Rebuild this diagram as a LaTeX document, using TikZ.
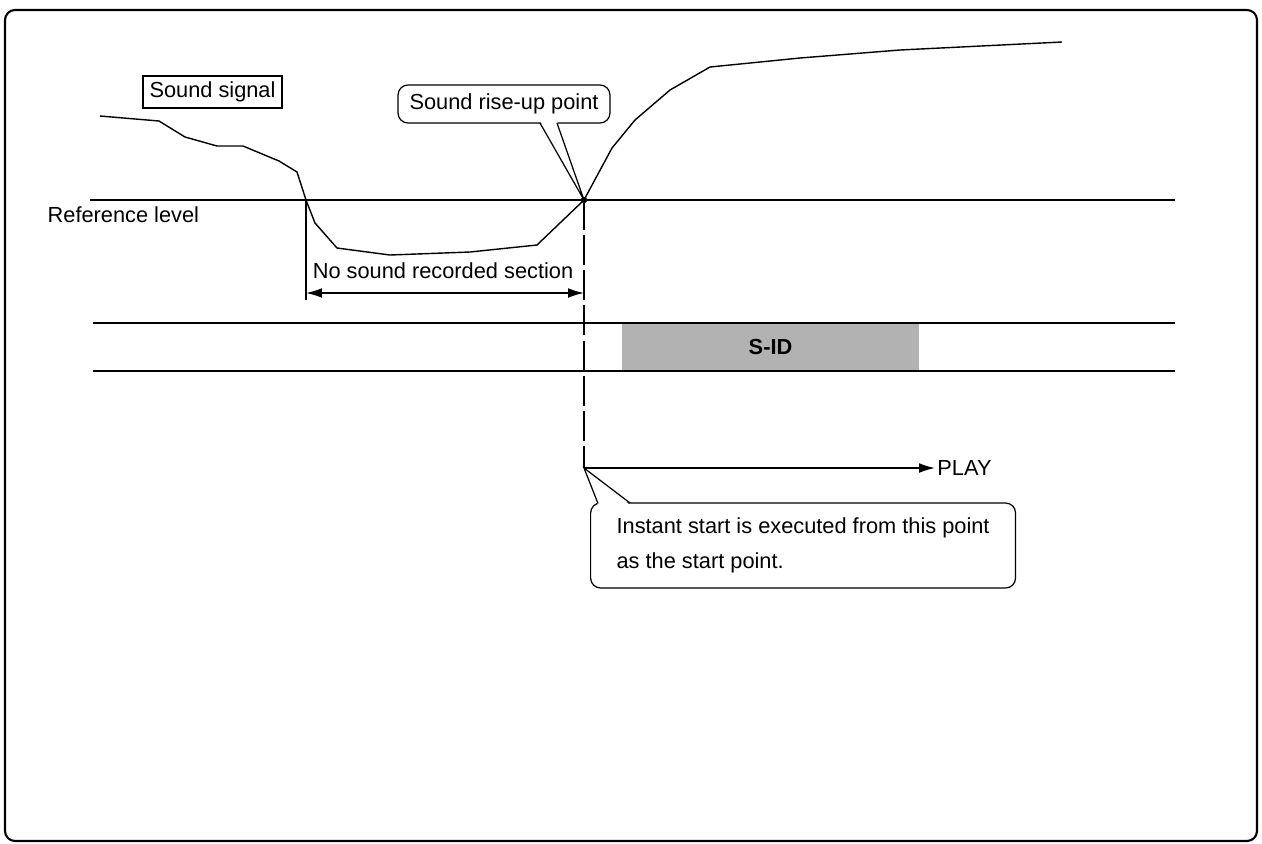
\documentclass[tikz,border=0pt]{standalone}
\usepackage{fontspec}
\setmainfont{Liberation Sans}
\usetikzlibrary{arrows.meta,positioning,calc}
\definecolor{sidgray}{HTML}{B2B2B2}

\begin{document}
\begin{tikzpicture}[x=0.02cm, y=-0.02cm, line width=0.8pt,
      font=\fontsize{12.4}{15}\selectfont,
      tag/.style={draw, line width=0.7pt, inner sep=0pt, minimum width=2.78cm, minimum height=0.64cm},
      callout/.style={draw, fill=white, line width=0.7pt, rounded corners=0.2cm, inner sep=0pt},
      track/.style={line width=0.9pt},
      tip/.style={-{Latex[length=9pt,width=5.5pt]}},
      dim/.style={{Latex[length=9pt,width=5.5pt]}-{Latex[length=9pt,width=5.5pt]}}]
    \useasboundingbox (0,0) rectangle (1262,843);
    \draw[line width=1.2pt, rounded corners=0.2cm] (5,10) rectangle (1257,841);

    \coordinate (rise) at (584,200);
    \coordinate (drop) at (306,200);
    \coordinate (start) at (584,468);
    \coordinate (dimL) at (306,293);

    \node[fill=sidgray, inner sep=0pt, minimum width=5.94cm, minimum height=0.96cm,
          font=\fontsize{12.4}{15}\selectfont\bfseries] (sid) at (770.5,347) {S-ID};
    \draw[track] (93,323) -- (1175,323);
    \draw[track] (93,371) -- (1175,371);
    \draw[track] (90,200) -- (1175,200);

    \draw (100,116) -- (159,121) -- (185,137) -- (217,146) -- (243,146) -- (279,161)
      -- (297,172) -- (drop) -- (315,223) -- (337,248) -- (390,255) -- (470,252)
      -- (537,245) -- (rise) -- (612,148) -- (635,120) -- (670,90) -- (710,67)
      -- (800,58) -- (900,50) -- (1062,42);
    \fill (rise) circle (0.065cm);

    \node[tag] (signal) at (212.5,92) {Sound signal};
    \node[anchor=west, inner sep=0pt] (reflevel) at (47,215) {Reference level};

    \node[callout, minimum width=4.24cm, minimum height=0.76cm] (riselbl) at (504,104) {Sound rise-up point};
    \fill[white] (540,121) -- (rise) -- (557,121) -- cycle;
    \draw[line width=0.7pt] (540,123) -- (rise) -- (557,123);

    \draw (drop) -- (306,300);
    \draw[dim] (dimL) -- (dimL -| rise);
    \node (nosound) at (443,271) {No sound recorded section};

    \draw[dash pattern=on 17pt off 3pt] (rise) -- (start);

    \node[anchor=west, inner sep=1pt] (play) at (935,468) {PLAY};
    \draw[tip] (start) -- (play.west);

    \node[callout, anchor=west, inner xsep=0.52cm, minimum height=1.7cm, align=left,
          font=\fontsize{12.4}{20}\selectfont] (instant) at (590,545.5)
          {Instant start is executed from this point\\as the start point.};
    \fill[white] (598,505) -- (start) -- (630,505) -- cycle;
    \draw[line width=0.7pt] (598,503.5) -- (start) -- (630,503);
  \end{tikzpicture}
\end{document}
